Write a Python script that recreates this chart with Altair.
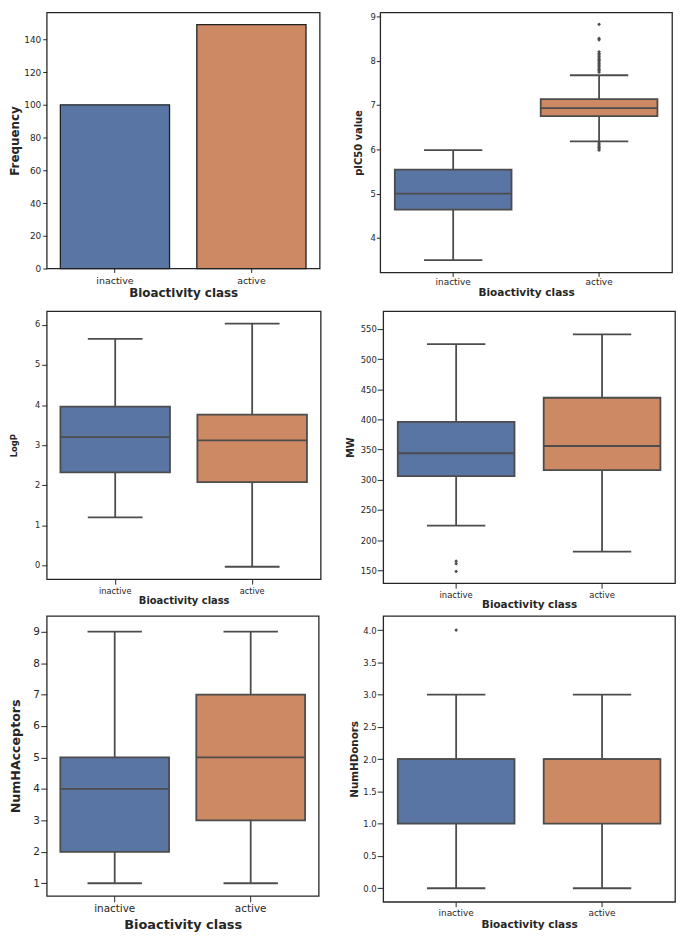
import altair as alt
import pandas as pd

classes = ["inactive", "active"]
frequency = [100, 149]

# box statistics: [lower whisker, Q1, median, Q3, upper whisker]
pic50_inactive = [3.50, 4.64, 5.00, 5.54, 5.98]
pic50_active = [6.18, 6.75, 6.93, 7.13, 7.67]
pic50_outliers_inactive = []
pic50_outliers_active = [8.82, 8.50, 8.47, 8.20, 8.16, 8.13, 8.10, 8.06, 8.03, 8.00,
                         7.97, 7.93, 7.90, 7.87, 7.83, 7.80, 7.77, 7.74,
                         6.14, 6.10, 6.07, 6.04, 6.01, 5.98]

logp_inactive = [1.20, 2.32, 3.20, 3.96, 5.65]
logp_active = [-0.03, 2.08, 3.12, 3.76, 6.03]

mw_inactive = [224, 306, 344, 396, 525]
mw_active = [181, 316, 356, 436, 541]
mw_outliers_inactive = [165, 161, 148]

hacc_inactive = [1, 2, 4, 5, 9]
hacc_active = [1, 3, 5, 7, 9]

hdon_inactive = [0, 1, 2, 2, 3]
hdon_active = [0, 1, 2, 2, 3]
hdon_outliers_inactive = [4]

BLUE = "#5975a4"
ORANGE = "#cc8963"
LINE = "#4c4c4c"
FRAME = "#262626"
FONT = "DejaVu Sans"
LW = 1.8


def x_enc(lab, tit, lpad, tpad, tick):
    return alt.X(
        "cls:N", sort=classes,
        scale=alt.Scale(domain=classes, paddingInner=0.2, paddingOuter=0.1),
        axis=alt.Axis(title="Bioactivity class", labelAngle=0, labelFontSize=lab,
                      titleFontSize=tit, titleFontWeight="bold", labelPadding=lpad,
                      titlePadding=tpad, tickSize=tick, domain=False, grid=False,
                      tickColor=FRAME, labelColor=FRAME, titleColor=FRAME,
                      labelFont=FONT, titleFont=FONT, tickWidth=1))


def y_axis(title, values, fmt, lab, tit, lpad, tpad, tick):
    return alt.Axis(title=title, values=values, format=fmt, labelFontSize=lab,
                    titleFontSize=tit, titleFontWeight="bold", labelPadding=lpad,
                    titlePadding=tpad, tickSize=tick, domain=False, grid=False,
                    tickColor=FRAME, labelColor=FRAME, titleColor=FRAME,
                    labelFont=FONT, titleFont=FONT, tickWidth=1)


def box_panel(s_in, s_act, o_in, o_act, ytitle, dom, ticks, fmt, w, h, xs, ys):
    df = pd.DataFrame({
        "cls": classes,
        "lo": [s_in[0], s_act[0]], "q1": [s_in[1], s_act[1]],
        "med": [s_in[2], s_act[2]], "q3": [s_in[3], s_act[3]],
        "hi": [s_in[4], s_act[4]],
    })
    x = x_enc(*xs)
    ysc = alt.Scale(domain=dom, nice=False, zero=False)
    ax = y_axis(ytitle, ticks, fmt, *ys)

    def Y(f):
        return alt.Y(f, scale=ysc, axis=ax)

    base = alt.Chart(df)
    layers = [
        base.mark_rule(color=LINE, strokeWidth=LW).encode(x=x, y=Y("lo:Q"), y2="q1:Q"),
        base.mark_rule(color=LINE, strokeWidth=LW).encode(x=x, y=Y("q3:Q"), y2="hi:Q"),
        base.mark_bar(stroke=LINE, strokeWidth=LW).encode(
            x=x, y=Y("q1:Q"), y2="q3:Q",
            color=alt.Color("cls:N", scale=alt.Scale(domain=classes, range=[BLUE, ORANGE]), legend=None)),
        base.mark_tick(color=LINE, thickness=LW, size=0.4 * w, opacity=1).encode(x=x, y=Y("med:Q")),
        base.mark_tick(color=LINE, thickness=LW, size=0.2 * w, opacity=1).encode(x=x, y=Y("lo:Q")),
        base.mark_tick(color=LINE, thickness=LW, size=0.2 * w, opacity=1).encode(x=x, y=Y("hi:Q")),
    ]
    if len(o_in) + len(o_act) > 0:
        out = pd.DataFrame({"cls": ["inactive"] * len(o_in) + ["active"] * len(o_act),
                            "v": list(o_in) + list(o_act)})
        layers.append(alt.Chart(out).mark_point(shape="diamond", filled=True, size=14,
                                                color=LINE, opacity=1).encode(x=x, y=Y("v:Q")))
    return alt.layer(*layers).properties(width=w, height=h)


# Panel 1: frequency bar chart
df_freq = pd.DataFrame({"cls": classes, "n": frequency})
p1 = alt.Chart(df_freq).mark_bar(stroke="#222222", strokeWidth=1.3).encode(
    x=x_enc(9.5, 12, 3, 3, 4),
    y=alt.Y("n:Q", scale=alt.Scale(domain=[0, 156.4], nice=False),
            axis=y_axis("Frequency", list(range(0, 141, 20)), "d", 9, 12, 2, 2, 4)),
    color=alt.Color("cls:N", scale=alt.Scale(domain=classes, range=[BLUE, ORANGE]), legend=None),
).properties(width=275, height=258)

p2 = box_panel(pic50_inactive, pic50_active, pic50_outliers_inactive, pic50_outliers_active,
               "pIC50 value", [3.22, 9.087], [4, 5, 6, 7, 8, 9], "d", 294, 262,
               (9, 10.6, 1.5, 1, 4), (8.5, 10, 1, 6, 4))

p3 = box_panel(logp_inactive, logp_active, [], [],
               "LogP", [-0.34, 6.34], [0, 1, 2, 3, 4, 5, 6], "d", 276, 270,
               (8.3, 10, 2, 1, 5), (8.3, 8.5, 2, 16.4, 5))

p4 = box_panel(mw_inactive, mw_active, mw_outliers_inactive, [],
               "MW", [128.6, 579.5], list(range(150, 551, 50)), "d", 294, 274,
               (8.5, 10.5, 2, 1, 5), (8.5, 10, 1, 4.5, 6))

p5 = box_panel(hacc_inactive, hacc_active, [], [],
               "NumHAcceptors", [0.6, 9.5], list(range(1, 10)), "d", 274, 282,
               (10.5, 13, 2, 4, 6), (10.5, 12.7, 1.5, 10.3, 6))

p6 = box_panel(hdon_inactive, hdon_active, hdon_outliers_inactive, [],
               "NumHDonors", [-0.21, 4.22], [0, 0.5, 1, 1.5, 2, 2.5, 3, 3.5, 4], ".1f", 294, 288,
               (9, 10.6, 1.5, 2, 5), (8.5, 10.4, 1, 3.3, 6))

row1 = alt.hconcat(p1, p2, spacing=32)
row2 = alt.hconcat(p3, p4, spacing=23)
row3 = alt.hconcat(p5, p6, spacing=29)

chart = alt.vconcat(row1, alt.vconcat(row2, row3, spacing=4), spacing=10).properties(
    padding={"left": 0, "top": 0, "right": 0, "bottom": 0},
    background="white",
).configure(font=FONT).configure_view(stroke=FRAME, strokeWidth=1.3)

chart.save("out.html", embed_options={"renderer": "svg", "actions": False})
